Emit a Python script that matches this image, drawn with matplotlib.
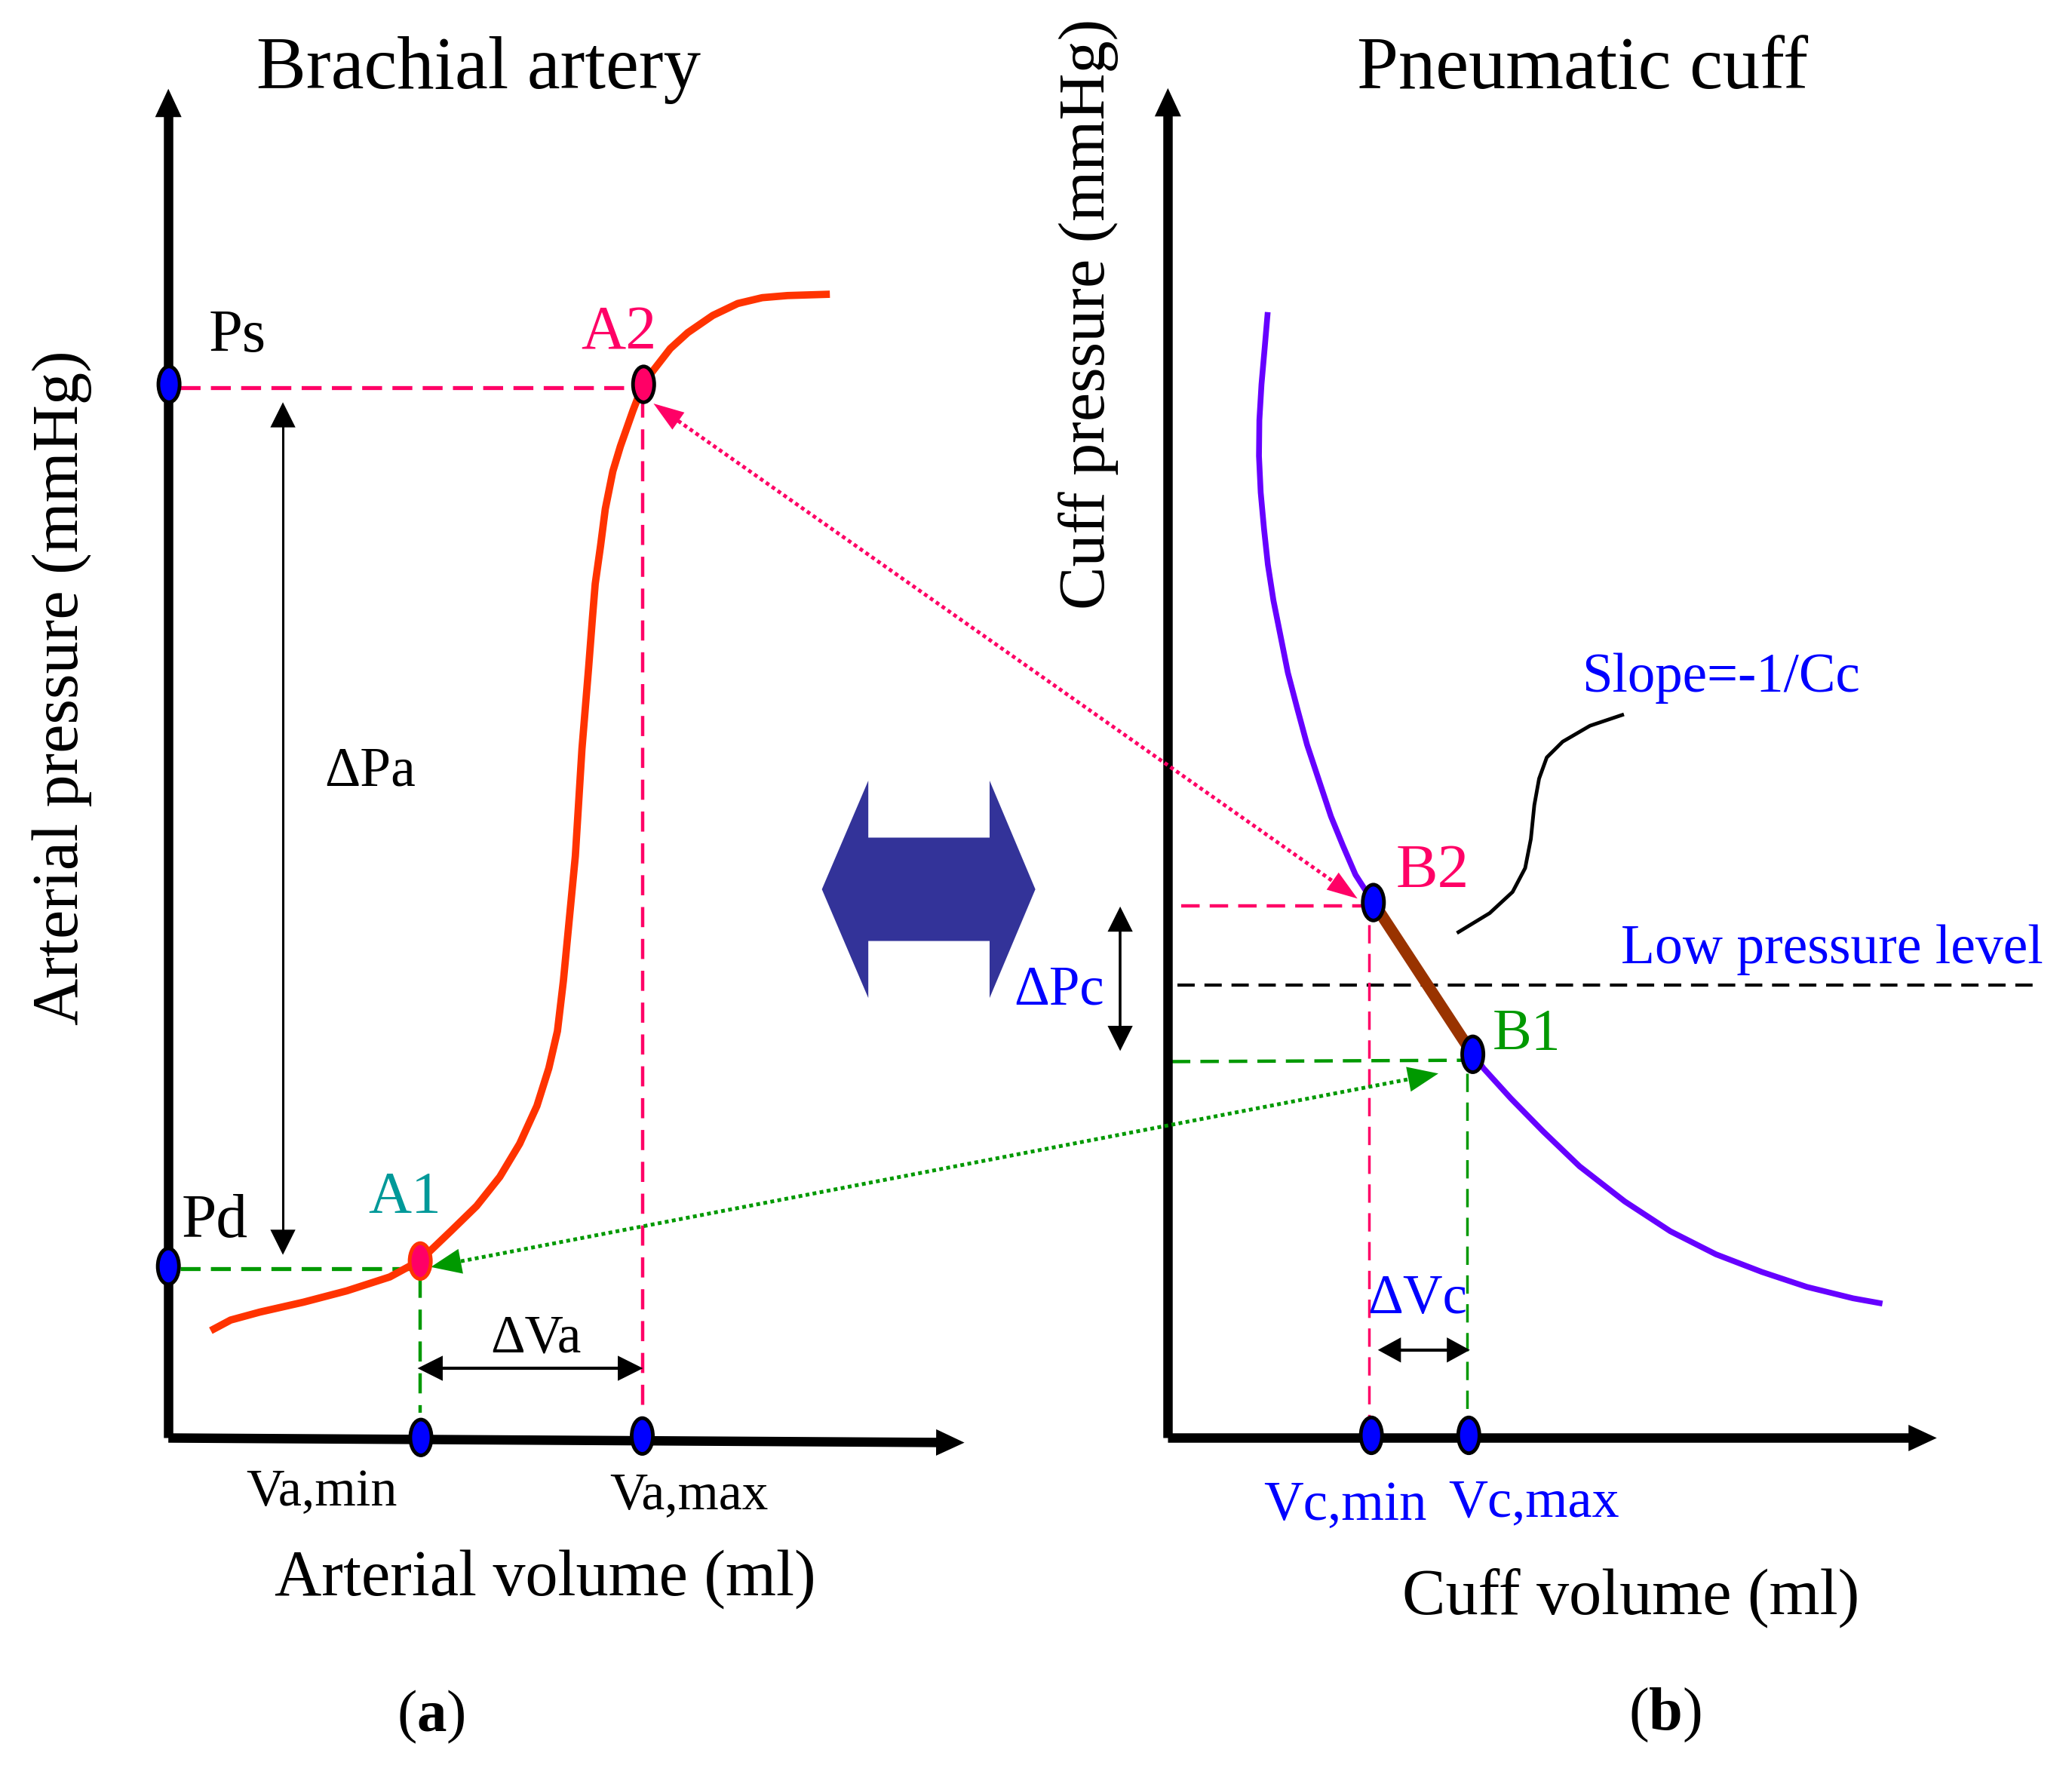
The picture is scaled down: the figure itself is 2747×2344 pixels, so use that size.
import numpy as np
import matplotlib.pyplot as plt
from matplotlib.patches import Ellipse, Polygon

plt.rcParams['font.family'] = ['Liberation Serif', 'DejaVu Serif']
plt.rcParams['mathtext.fontset'] = 'custom'
plt.rcParams['mathtext.rm'] = 'Liberation Serif'
plt.rcParams['mathtext.bf'] = 'Liberation Serif:bold'

# colours
PINK = '#FF0066'
GREEN = '#009900'
TEAL = '#009999'
BLUE = '#0000FF'
RED = '#FF3300'
PURPLE = '#6600FF'
BROWN = '#993300'
NAVY = '#333399'

# curves (picture units)
artery_vol = [159, 174, 196, 229, 261.5, 294, 317, 340, 359.5, 377, 392, 405,
              414, 420.5, 425, 434, 439, 444, 447, 449, 453, 456.6, 462.3,
              468, 477.4, 485.2, 492.4, 505.6, 518.8, 537.7, 556.5, 575, 594, 626]
artery_prs = [1004, 996, 990, 982.5, 974, 963.5, 951, 929, 910, 888, 863, 834.5,
              806, 778, 740, 646, 565, 504, 465, 440.5, 412, 384, 355.6,
              336.7, 310, 289.7, 280, 263, 251, 238, 229, 224.6, 223, 222]

cuff_vol = [956.3, 954, 951.6, 950, 949.7, 951, 953.5, 956.4, 960.6, 966, 971.5,
            978.7, 986, 995, 1004, 1013, 1022.5, 1036, 1075, 1111.6, 1119, 1139.7,
            1163.9, 1191.5, 1225.6, 1260, 1294.4, 1329, 1363, 1397.8, 1420]
cuff_prs = [235.5, 262.6, 290, 317, 344, 371.6, 399, 426, 453, 480, 507.6,
            535, 562, 589, 616, 638, 660, 681, 740, 795.5, 806, 828.8,
            853.5, 880, 906.5, 929, 946.4, 959.7, 971, 979.6, 983.6]

slope_x = [1099, 1123.7, 1141, 1150.5, 1154.8, 1157.4, 1161, 1166.8, 1178.8, 1199.4, 1225]
slope_y = [704, 689, 673, 655, 633, 607.5, 587.5, 571.5, 559.6, 547.6, 539]

# operating points
Ps = (127.5, 290)
Pd = (127, 955.5)
A2 = (485.5, 290)
A1 = (317, 951.5)
Va_min = (317.5, 1084.6)
Va_max = (484.5, 1083.5)
B2 = (1036, 681)
B1 = (1111, 795.5)
Vc_min = (1034.5, 1083)
Vc_max = (1108, 1083)

PT = 0.79  # picture units per point


def head(ax, tip, tail, color, hl, hw):
    ax.annotate('', xy=tip, xytext=tail,
                arrowprops=dict(arrowstyle=f'-|>,head_length={hl},head_width={hw}',
                                fc=color, ec=color, lw=0, shrinkA=0, shrinkB=0,
                                mutation_scale=10), zorder=6)


def arrow(ax, p0, p1, color, lw, hl, hw, both=False, **kw):
    (x0, y0), (x1, y1) = p0, p1
    d = np.hypot(x1 - x0, y1 - y0)
    ux, uy = (x1 - x0) / d, (y1 - y0) / d
    cut = hl * 10 * PT * 0.8
    sx, sy = (x0 + ux * cut, y0 + uy * cut) if both else (x0, y0)
    ax.plot([sx, x1 - ux * cut], [sy, y1 - uy * cut], color=color, lw=lw,
            solid_capstyle='butt', zorder=5, **kw)
    head(ax, p1, p0, color, hl, hw)
    if both:
        head(ax, p0, p1, color, hl, hw)


def marker(ax, xy, fc, ec):
    ax.add_patch(Ellipse(xy, 16, 27, fc=fc, ec=ec, lw=3.5, zorder=7))


fig = plt.figure(figsize=(27.47, 23.44), dpi=100)
ax = fig.add_axes([0, 0, 1, 1])
ax.set_xlim(0, 1563)
ax.set_ylim(1334, 0)
ax.axis('off')

# ---- (a) brachial artery ----
arrow(ax, (127, 1085), (127, 67), 'black', 9, 2.7, 1.26)
arrow(ax, (127, 1085), (727.5, 1088.5), 'black', 9, 2.7, 1.26)

ax.plot([136, A2[0] - 8], [292.5, 292.5], color=PINK, lw=3.8, dashes=(5, 2.6))
ax.plot([484.5, 484.5], [300, 1066], color=PINK, lw=3.2, dashes=(6, 3.5))
ax.plot([136, A1[0] - 8], [957.5, 957.5], color=GREEN, lw=3.8, dashes=(5, 2.6))
ax.plot([317, 317], [964, 1066], color=GREEN, lw=3.2, dashes=(6, 3.5))

ax.plot(artery_vol, artery_prs, color=RED, lw=7, solid_capstyle='butt',
        solid_joinstyle='round', zorder=4)

arrow(ax, (213.4, 303.5), (213.4, 946.8), 'black', 2.2, 2.4, 1.2, both=True)
arrow(ax, (315, 1032.4), (485, 1032.4), 'black', 3, 2.4, 1.2, both=True)

for p in (Ps, Pd, Va_min, Va_max):
    marker(ax, p, BLUE, 'black')
marker(ax, A2, PINK, 'black')
marker(ax, A1, PINK, RED)

txt = dict(ha='left', va='baseline')
ax.text(361, 66.5, 'Brachial artery', ha='center', va='baseline', fontsize=71)
ax.text(157.5, 265.4, 'Ps', fontsize=58, **txt)
ax.text(438, 263, 'A2', fontsize=59, color=PINK, **txt)
ax.text(137, 933.6, 'Pd', fontsize=60, **txt)
ax.text(278, 914.6, 'A1', fontsize=57, color=TEAL, **txt)
ax.text(245, 593, 'ΔPa', fontsize=53, **txt)
ax.text(370, 1020, 'ΔVa', fontsize=51, **txt)
ax.text(185.5, 1136, 'Va,min', fontsize=50.5, **txt)
ax.text(460, 1138, 'Va,max', fontsize=50, **txt)
ax.text(411, 1203.7, 'Arterial volume (ml)', ha='center', va='baseline', fontsize=62)
ax.text(325, 1306, r'(${\bf a}$)', ha='center', va='baseline', fontsize=57)
ax.text(58.5, 519, 'Arterial pressure (mmHg)', rotation=90, rotation_mode='anchor',
        ha='center', va='baseline', fontsize=62)

# ---- big double arrow ----
cx, cy = 700.5, 671
tip_l, tip_r = 620, 781
back_l, back_r = 655, 746.5
shaft_h, head_h = 39, 82
ax.add_patch(Polygon([(tip_l, cy), (back_l, cy - head_h), (back_l, cy - shaft_h),
                      (back_r, cy - shaft_h), (back_r, cy - head_h), (tip_r, cy),
                      (back_r, cy + head_h), (back_r, cy + shaft_h),
                      (back_l, cy + shaft_h), (back_l, cy + head_h)],
                     closed=True, fc=NAVY, ec='none', zorder=3))

# ---- (b) pneumatic cuff ----
arrow(ax, (881, 1085), (881, 66.5), 'black', 9, 2.7, 1.26)
arrow(ax, (881, 1085), (1461, 1085), 'black', 9, 2.7, 1.26)

ax.plot([888, 1540], [743, 743], color='black', lw=3, dashes=(5.5, 3.1))
ax.plot([891, B2[0] - 8], [683.7, 683.7], color=PINK, lw=3.2, dashes=(5.5, 3))
ax.plot([1032.8, 1032.8], [698, 1069], color=PINK, lw=2.5, dashes=(7, 4))
ax.plot([884, B1[0] - 8], [801, 800], color=GREEN, lw=3.2, dashes=(5.5, 3))
ax.plot([1106.7, 1106.7], [810, 1069], color=GREEN, lw=2.5, dashes=(7, 4))

ax.plot(cuff_vol, cuff_prs, color=PURPLE, lw=5.5, solid_capstyle='butt',
        solid_joinstyle='round', zorder=4)
ax.plot([B2[0], B1[0]], [B2[1], B1[1]], color=BROWN, lw=11, solid_capstyle='butt', zorder=4)
ax.plot(slope_x, slope_y, color='black', lw=3.5, solid_capstyle='butt',
        solid_joinstyle='round')

arrow(ax, (845, 684), (845, 793), 'black', 2.6, 2.4, 1.2, both=True)
arrow(ax, (1039.4, 1018.6), (1108.8, 1018.6), 'black', 3, 2.2, 1.2, both=True)

for p in (B2, B1, Vc_min, Vc_max):
    marker(ax, p, BLUE, 'black')

ax.text(1193.6, 66.5, 'Pneumatic cuff', ha='center', va='baseline', fontsize=71)
ax.text(833, 237, 'Cuff pressure (mmHg)', rotation=90, rotation_mode='anchor',
        ha='center', va='baseline', fontsize=62)
ax.text(1193, 522, 'Slope=-1/Cc', fontsize=52.5, color=BLUE, **txt)
ax.text(1053, 669, 'B2', fontsize=60, color=PINK, **txt)
ax.text(1223, 727, 'Low pressure level', fontsize=53, color=BLUE, **txt)
ax.text(1125.8, 791.8, 'B1', fontsize=56, color=GREEN, **txt)
ax.text(765, 758, 'ΔPc', fontsize=52.5, color=BLUE, **txt)
ax.text(1031.6, 990.6, 'ΔVc', fontsize=52.5, color=BLUE, **txt)
ax.text(953, 1146.6, 'Vc,min', fontsize=52.5, color=BLUE, **txt)
ax.text(1092.5, 1144, 'Vc,max', fontsize=52, color=BLUE, **txt)
ax.text(1230, 1217.5, 'Cuff volume (ml)', ha='center', va='baseline', fontsize=62)
ax.text(1256, 1305, r'(${\bf b}$)', ha='center', va='baseline', fontsize=58)

# ---- links between the two panels ----
arrow(ax, (1024, 678), (493, 304.5), PINK, 3.6, 2.9, 1.0, both=True, dashes=(1, 0.9))
arrow(ax, (1085, 810), (325, 956), GREEN, 3.6, 2.9, 1.2, both=True, dashes=(1, 0.9))

fig.savefig('out.png', dpi=100)
